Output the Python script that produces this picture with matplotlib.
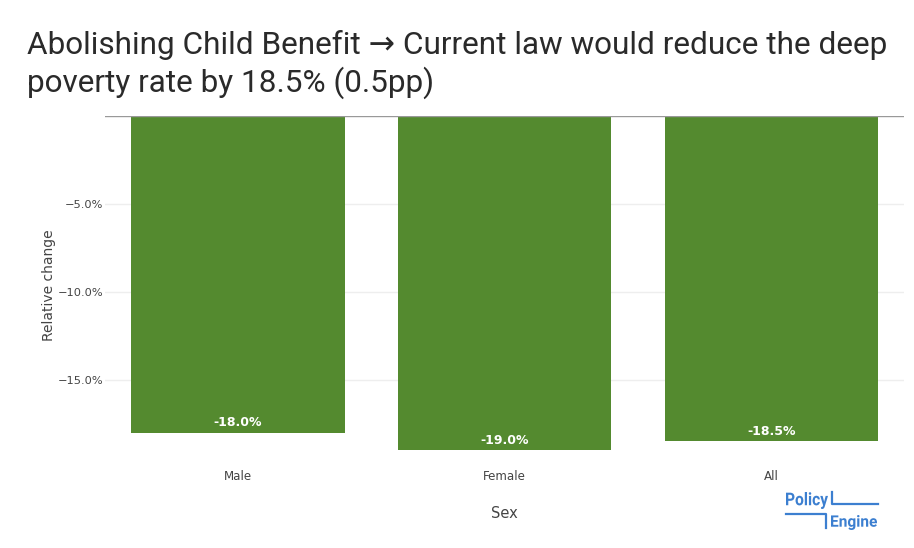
import matplotlib
matplotlib.use('Agg')
from matplotlib import pyplot as plt
from matplotlib.lines import Line2D
from matplotlib.textpath import TextPath
from matplotlib.patches import PathPatch
from matplotlib.font_manager import FontProperties
from matplotlib.transforms import Affine2D

categories = ['Male', 'Female', 'All']
rel_change = [-18.0, -19.0, -18.5]
bar_labels = ['-18.0%', '-19.0%', '-18.5%']
yticks = [-5, -10, -15]
ytick_labels = ['\u22125.0%', '\u221210.0%', '\u221215.0%']
title_lines = ['Abolishing Child Benefit \u2192 Current law would reduce the deep',
               'poverty rate by 18.5% (0.5pp)']

green = '#548a2f'
tick_col = '#444444'
W, H = 914, 548

fig = plt.figure(figsize=(9.14, 5.48), dpi=100)
ax = fig.add_axes([104.5 / W, 1 - 455 / H, 800 / W, 339 / H])

x = range(len(categories))
bars = ax.bar(x, rel_change, width=0.8, color=green, zorder=2)
for b, lab in zip(bars, bar_labels):
    ax.text(b.get_x() + b.get_width() / 2, b.get_height() + 0.2, lab,
            ha='center', va='bottom', color='white', fontsize=9,
            fontweight='bold', zorder=3)

ax.set_xlim(-0.5, 2.5)
ax.set_ylim(-19.27, 0)
ax.set_xticks(list(x))
ax.set_xticklabels(categories, fontsize=8.6, color=tick_col)
ax.set_yticks(yticks)
ax.set_yticklabels(ytick_labels, fontsize=8.2, color=tick_col)
ax.tick_params(length=0, pad=1)
ax.tick_params(axis='x', pad=11)
ax.grid(axis='y', color='#eeeeee', linewidth=1, zorder=0)
for s in ax.spines.values():
    s.set_visible(False)
ax.axhline(0, color='#999999', linewidth=1, zorder=4)

ax.set_ylabel('Relative change', fontsize=10, color=tick_col, labelpad=1)
ax.set_xlabel('Sex', fontsize=10.5, color=tick_col, labelpad=16)

# title, sized so the first line spans the same width as in the reference
title_font = ['Roboto', 'DejaVu Sans']
t1 = fig.text(27 / W, 1 - 54 / H, title_lines[0], fontsize=22,
              family=title_font, color='#2a2a2a')
t2 = fig.text(27 / W, 1 - 92 / H, title_lines[1], fontsize=22,
              family=title_font, color='#2a2a2a')
r = fig.canvas.get_renderer()
w = t1.get_window_extent(r).width
fs = 22 * 860 / w
t1.set_fontsize(fs)
t2.set_fontsize(fs)

# logo
blue = '#3c7fd0'
logo_prop = FontProperties(family='Roboto', weight='bold')

def logo_word(word, x0, y0, x1, y1):
    p = TextPath((0, 0), word, size=20, prop=logo_prop)
    e = p.get_extents()
    sx = (x1 - x0) / e.width
    sy = (y1 - y0) / e.height
    tr = Affine2D().translate(-e.x0, -e.y0).scale(sx, sy).translate(x0, H - y1)
    fig.add_artist(PathPatch(p, transform=tr, color=blue, lw=0))

logo_word('Policy', 786, 492, 828, 509)
logo_word('Engine', 831, 515, 877, 530)

def fl(xs, ys):
    fig.add_artist(Line2D([v / W for v in xs], [1 - v / H for v in ys],
                          color=blue, linewidth=1.6, transform=fig.transFigure))
fl([832, 832, 878], [492, 503.5, 503.5])
fl([786, 825.5, 825.5], [514, 514, 528])

fig.savefig('out.png', dpi=100)
